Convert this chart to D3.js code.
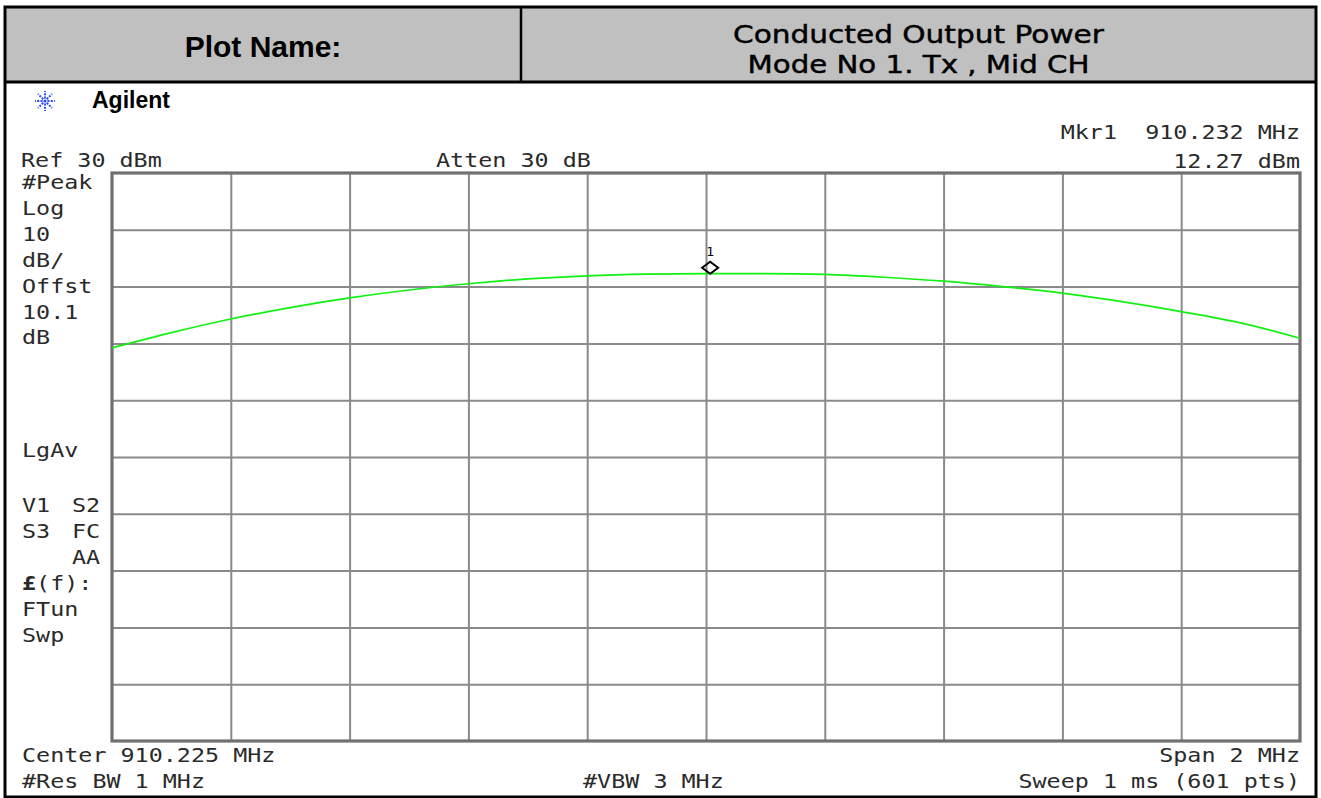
<!DOCTYPE html>
<html>
<head>
<meta charset="utf-8">
<script src="https://cdn.jsdelivr.net/npm/d3@7"></script>
<style>
  html, body { margin: 0; padding: 0; background: #fff; }
  svg { display: block; }
  .mono { font-family: "DejaVu Sans Mono", "Liberation Mono", monospace; font-size: 20px; fill: #2a2a2a; white-space: pre; }
</style>
</head>
<body>
<svg id="chart" width="1321" height="798"></svg>
<script>
// ---------------- data ----------------
const freqMHz = [909.225, 909.325, 909.425, 909.525, 909.625, 909.725, 909.825, 909.925, 910.025, 910.125,
                 910.225, 910.325, 910.425, 910.525, 910.625, 910.725, 910.825, 910.925, 911.025, 911.125, 911.225];
const levelDBm = [-0.8, 1.9, 4.3, 6.3, 8.0, 9.4, 10.5, 11.35, 11.9, 12.2,
                  12.3, 12.3, 12.15, 11.65, 10.95, 10.0, 8.85, 7.35, 5.6, 3.6, 0.9];
const freqDomain = [909.225, 911.225];
const levelDomain = [-70, 30];
const freqGridTicks = [909.425, 909.625, 909.825, 910.025, 910.225, 910.425, 910.625, 910.825, 911.025];
const levelGridTicks = [20, 10, 0, -10, -20, -30, -40, -50, -60];
const markerFreq = 910.232;
const markerLevel = 12.27;

const plotName = "Plot Name:";
const titleLines = ["Conducted Output Power", "Mode No 1. Tx , Mid CH"];
const leftLabels = [
  ["#Peak", 189], ["Log", 215], ["10", 241], ["dB/", 267], ["Offst", 293], ["10.1", 319], ["dB", 344],
  ["LgAv", 457], ["V1", 512], ["S3", 538], ["FTun", 616], ["Swp", 642]
];
const leftLabels2 = [["S2", 512], ["FC", 538], ["AA", 564]];

// ---------------- layout ----------------
const svg = d3.select("#chart");
const W = 1321, H = 798;
const frame = { x0: 5, y0: 7, x1: 1316, y1: 797, headerBottom: 82, divider: 521 };
const plot = { left: 112, top: 173, right: 1300, bottom: 741 };

svg.append("rect").attr("width", W).attr("height", H).attr("fill", "#fff");

// header
svg.append("rect").attr("x", frame.x0).attr("y", frame.y0)
  .attr("width", frame.x1 - frame.x0).attr("height", frame.headerBottom - frame.y0)
  .attr("fill", "#c0c0c0");
svg.append("rect").attr("x", frame.x0).attr("y", frame.y0)
  .attr("width", frame.x1 - frame.x0).attr("height", frame.y1 - frame.y0)
  .attr("fill", "none").attr("stroke", "#000").attr("stroke-width", 3);
svg.append("line").attr("x1", frame.x0).attr("x2", frame.x1)
  .attr("y1", frame.headerBottom).attr("y2", frame.headerBottom)
  .attr("stroke", "#000").attr("stroke-width", 3);
svg.append("line").attr("x1", frame.divider).attr("x2", frame.divider)
  .attr("y1", frame.y0).attr("y2", frame.headerBottom)
  .attr("stroke", "#000").attr("stroke-width", 2.5);

svg.append("text").attr("x", (frame.x0 + frame.divider) / 2).attr("y", 57)
  .attr("text-anchor", "middle")
  .style("font-family", "'Liberation Sans', Arial, sans-serif")
  .style("font-weight", "bold").style("font-size", "30px").attr("fill", "#000")
  .text(plotName);

const titleCx = (frame.divider + frame.x1) / 2;
[[titleLines[0], 43, 371], [titleLines[1], 73, 342]].forEach(([t, y, len]) => {
  svg.append("text").attr("x", titleCx).attr("y", y).attr("text-anchor", "middle")
    .attr("textLength", len).attr("lengthAdjust", "spacingAndGlyphs")
    .style("font-family", "'DejaVu Sans', Verdana, sans-serif")
    .style("font-size", "25px").attr("fill", "#000")
    .attr("stroke", "#000").attr("stroke-width", 0.45)
    .text(t);
});

// Agilent logo
const logo = svg.append("g").attr("transform", "translate(45,101)");
for (let i = 0; i < 8; i++) {
  const a = i * Math.PI / 4;
  logo.append("line")
    .attr("x1", Math.cos(a) * 2.5).attr("y1", Math.sin(a) * 2.5)
    .attr("x2", Math.cos(a) * 10).attr("y2", Math.sin(a) * 10)
    .attr("stroke", "#2a4cff").attr("stroke-width", 2)
    .attr("stroke-dasharray", "2,1.3");
}
logo.append("circle").attr("r", 1.6).attr("fill", "#2a4cff");
svg.append("text").attr("x", 92).attr("y", 108)
  .style("font-family", "'Liberation Sans', Arial, sans-serif")
  .style("font-weight", "bold").style("font-size", "23px").attr("fill", "#000")
  .text("Agilent");

// instrument text helper
const SX = 1.17;
function mono(x, y, str, anchor) {
  return svg.append("text").attr("class", "mono")
    .attr("xml:space", "preserve")
    .attr("transform", `translate(${x},${y}) scale(${SX},1)`)
    .attr("text-anchor", anchor || "start")
    .text(str);
}

mono(21, 167, "Ref 30 dBm");
mono(436, 167, "Atten 30 dB");
mono(1300, 139, "Mkr1  910.232 MHz", "end");
mono(1300, 168, "12.27 dBm", "end");
leftLabels.forEach(([t, y]) => mono(22, y, t));
leftLabels2.forEach(([t, y]) => mono(72, y, t));
const ff = mono(22, 590, "");
ff.append("tspan").style("font-weight", "bold").text("£");
ff.append("tspan").text("(f):");

mono(22, 762, "Center 910.225 MHz");
mono(1300, 762, "Span 2 MHz", "end");
mono(22, 788, "#Res BW 1 MHz");
mono(583, 788, "#VBW 3 MHz");
mono(1300, 788, "Sweep 1 ms (601 pts)", "end");

// ---------------- scales & grid ----------------
const x = d3.scaleLinear().domain(freqDomain).range([plot.left, plot.right]);
const y = d3.scaleLinear().domain(levelDomain).range([plot.bottom, plot.top]);

const gridX = svg.append("g").attr("transform", `translate(0,${plot.bottom})`)
  .call(d3.axisBottom(x).tickValues(freqGridTicks).tickSize(-(plot.bottom - plot.top)).tickFormat(""));
const gridY = svg.append("g").attr("transform", `translate(${plot.left},0)`)
  .call(d3.axisLeft(y).tickValues(levelGridTicks).tickSize(-(plot.right - plot.left)).tickFormat(""));
[gridX, gridY].forEach(g => {
  g.select(".domain").remove();
  g.selectAll(".tick line").attr("stroke", "#8a8a8a").attr("stroke-width", 2);
});

svg.append("rect").attr("x", plot.left).attr("y", plot.top)
  .attr("width", plot.right - plot.left).attr("height", plot.bottom - plot.top)
  .attr("fill", "none").attr("stroke", "#707070").attr("stroke-width", 3.2);

// ---------------- trace ----------------
const line = d3.line().x(d => x(d[0])).y(d => y(d[1])).curve(d3.curveMonotoneX);
svg.append("path").datum(d3.zip(freqMHz, levelDBm))
  .attr("d", line).attr("fill", "none")
  .attr("stroke", "#12f012").attr("stroke-width", 1.7);

// ---------------- marker ----------------
const mx = x(markerFreq), my = y(markerLevel);
svg.append("path")
  .attr("d", `M${mx},${my} L${mx + 8},${my - 6} L${mx},${my - 12} L${mx - 8},${my - 6} Z`)
  .attr("fill", "none").attr("stroke", "#000").attr("stroke-width", 2);
svg.append("text").attr("x", mx).attr("y", my - 18).attr("text-anchor", "middle")
  .style("font-family", "'DejaVu Sans Mono', monospace").style("font-size", "13px").attr("fill", "#000")
  .text("1");
</script>
</body>
</html>
